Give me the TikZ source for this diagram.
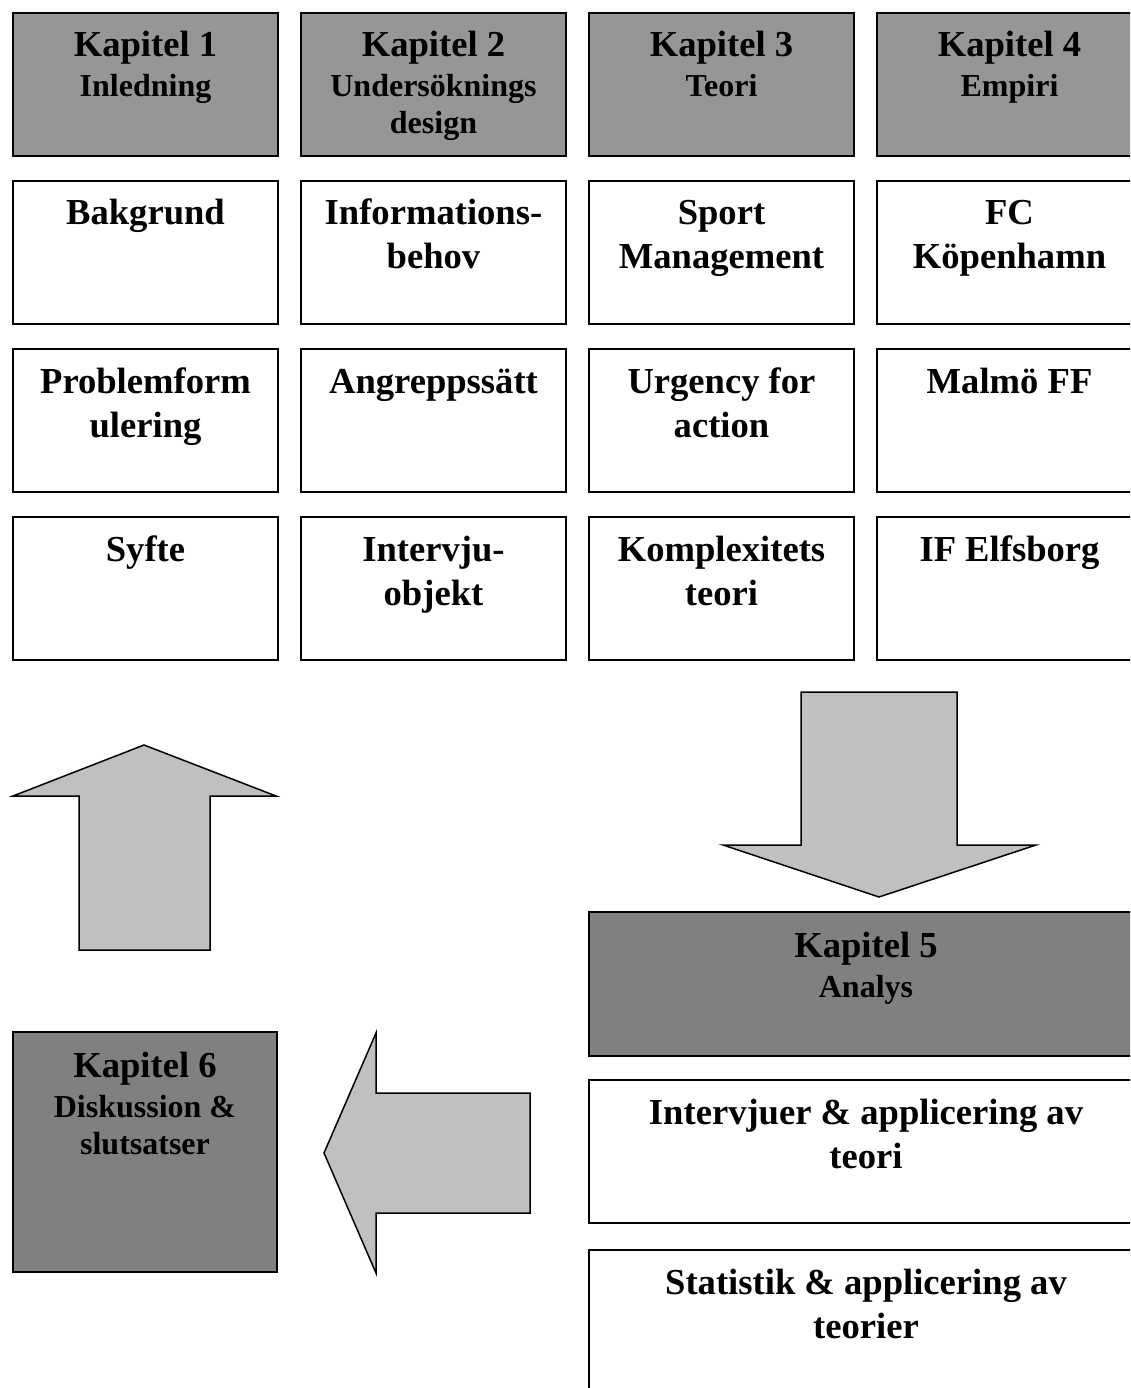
\documentclass[tikz,border=0pt]{standalone}
\usepackage{fontspec}
\setmainfont{Liberation Serif}
\definecolor{chapgray}{HTML}{969696}
\definecolor{darkchap}{HTML}{808080}
\definecolor{arrowgray}{HTML}{C0C0C0}
\newcommand{\bigline}{\fontsize{36.6}{44}\selectfont}
\newcommand{\subline}{\fontsize{32}{37}\selectfont}

\begin{document}
\begin{tikzpicture}[x=1pt, y=-1pt,
  box/.style={draw=black, line width=2pt, fill=white, rectangle,
    minimum width=265pt, minimum height=143pt, inner sep=0pt, anchor=north west},
  chapter/.style={box, fill=chapgray},
  darkchapter/.style={box, fill=darkchap},
  wide/.style={minimum width=554pt},
  boxtext/.style={anchor=base, align=flush center, inner sep=0pt, text width=260pt,
    font=\bfseries\bigline},
  chaptext/.style={anchor=base, align=flush center, inner sep=0pt, text width=260pt,
    font=\bfseries\subline},
  widetext/.style={text width=540pt},
  blockarrow/.style={draw=black, line width=1.5pt, fill=arrowgray, line join=miter}
]
\useasboundingbox (0,0) rectangle (1130,1388);
\clip (0,0) rectangle (1130,1388);

% chapter headers
\node[chapter] (k1) at (12,12) {};
\node[chapter] (k2) at (300,12) {};
\node[chapter] (k3) at (588,12) {};
\node[chapter] (k4) at (876,12) {};
\node[chaptext] (k1t) at ([yshift=-45pt]k1.north) {{\bigline Kapitel 1}\\[3pt]Inledning};
\node[chaptext] (k2t) at ([yshift=-45pt]k2.north) {{\bigline Kapitel 2}\\[3pt]Undersöknings\\design};
\node[chaptext] (k3t) at ([yshift=-45pt]k3.north) {{\bigline Kapitel 3}\\[3pt]Teori};
\node[chaptext] (k4t) at ([yshift=-45pt]k4.north) {{\bigline Kapitel 4}\\[3pt]Empiri};

% row 2
\node[box] (a1) at (12,180) {};
\node[box] (a2) at (300,180) {};
\node[box] (a3) at (588,180) {};
\node[box] (a4) at (876,180) {};
\node[boxtext] (a1t) at ([yshift=-45pt]a1.north) {Bakgrund};
\node[boxtext] (a2t) at ([yshift=-45pt]a2.north) {Informations-\\behov};
\node[boxtext] (a3t) at ([yshift=-45pt]a3.north) {Sport\\Management};
\node[boxtext] (a4t) at ([yshift=-45pt]a4.north) {FC\\Köpenhamn};

% row 3
\node[box] (b1) at (12,348) {};
\node[box] (b2) at (300,348) {};
\node[box] (b3) at (588,348) {};
\node[box] (b4) at (876,348) {};
\node[boxtext] (b1t) at ([yshift=-45pt]b1.north) {Problemform\\ulering};
\node[boxtext] (b2t) at ([yshift=-45pt]b2.north) {Angreppssätt};
\node[boxtext] (b3t) at ([yshift=-45pt]b3.north) {Urgency for\\action};
\node[boxtext] (b4t) at ([yshift=-45pt]b4.north) {Malmö FF};

% row 4
\node[box] (c1) at (12,516) {};
\node[box] (c2) at (300,516) {};
\node[box] (c3) at (588,516) {};
\node[box] (c4) at (876,516) {};
\node[boxtext] (c1t) at ([yshift=-45pt]c1.north) {Syfte};
\node[boxtext] (c2t) at ([yshift=-45pt]c2.north) {Intervju-\\objekt};
\node[boxtext] (c3t) at ([yshift=-45pt]c3.north) {Komplexitets\\teori};
\node[boxtext] (c4t) at ([yshift=-45pt]c4.north) {IF Elfsborg};

% analysis chapter
\node[darkchapter, wide, minimum height=144pt] (k5) at (588,911) {};
\node[chaptext, widetext] (k5t) at ([yshift=-46pt]k5.north) {{\bigline Kapitel 5}\\[3pt]Analys};
\node[box, wide] (d1) at (588,1079) {};
\node[boxtext, widetext] (d1t) at ([yshift=-45pt]d1.north) {Intervjuer \& applicering av\\teori};
\node[box, wide] (d2) at (588,1249) {};
\node[boxtext, widetext] (d2t) at ([yshift=-45pt]d2.north) {Statistik \& applicering av\\teorier};

% discussion chapter
\node[darkchapter, minimum width=264pt, minimum height=240pt] (k6) at (12,1031) {};
\node[chaptext] (k6t) at ([yshift=-46pt]k6.north) {{\bigline Kapitel 6}\\[3pt]Diskussion \&\\slutsatser};

% block arrows
\draw[blockarrow] (144,745) -- (276,796) -- (210,796) -- (210,950)
  -- (79,950) -- (79,796) -- (13,796) -- cycle;
\draw[blockarrow] (801,692) -- (957,692) -- (957,845) -- (1036,845)
  -- (879,897) -- (723,845) -- (801,845) -- cycle;
\draw[blockarrow] (324,1153) -- (376,1033) -- (376,1093) -- (530,1093)
  -- (530,1213) -- (376,1213) -- (376,1273) -- cycle;
\end{tikzpicture}
\end{document}
